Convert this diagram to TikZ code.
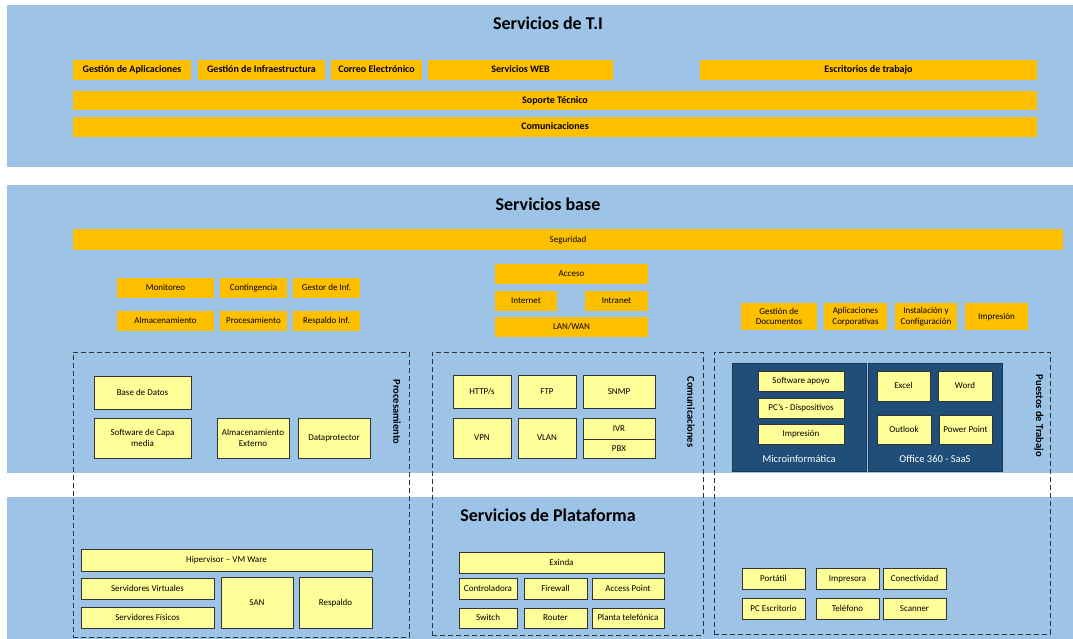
\documentclass[tikz,border=0pt]{standalone}
\usepackage{fontspec}
\setmainfont{Carlito}
\definecolor{bandblue}{HTML}{9DC3E6}
\definecolor{baseorange}{HTML}{FFC000}
\definecolor{unityellow}{HTML}{FFFF99}
\definecolor{darkblue}{HTML}{1F4E79}
\definecolor{edgegray}{HTML}{333333}
\begin{document}
\begin{tikzpicture}[x=1pt,y=-1pt,
    band/.style={fill=bandblue,draw=none},
    bandtitle/.style={font=\fontsize{18}{20}\selectfont\bfseries},
    lineup/.style={text height=1.55ex,text depth=0.45ex},
    topbar/.style={fill=baseorange,draw=none,inner sep=0,outer sep=0,lineup,font=\fontsize{10}{12}\selectfont\bfseries},
    basetwo/.style={fill=baseorange,draw=none,inner sep=0,outer sep=0,align=center,font=\fontsize{9}{10.5}\selectfont},
    basebox/.style={basetwo,lineup},
    unittwo/.style={fill=unityellow,draw=edgegray,line width=0.9pt,inner sep=0,outer sep=0,align=center,font=\fontsize{9}{10.5}\selectfont},
    unitbox/.style={unittwo,lineup},
    darkbox/.style={fill=darkblue,draw=darkblue!70!black,line width=0.6pt,inner sep=0,outer sep=0},
    darklabel/.style={text=white,font=\fontsize{10.5}{12}\selectfont},
    groupbox/.style={draw=edgegray,line width=0.9pt,dash pattern=on 5pt off 3pt,inner sep=0,outer sep=0},
    sidelabel/.style={rotate=-90,font=\fontsize{10.5}{12}\selectfont\bfseries}]

\useasboundingbox (0,0) rectangle (1073,639);

% Bands
  \draw[band] (7,5) rectangle (1073,167);
  \draw[band] (7,185) rectangle (1073,473);
  \draw[band] (7,497) rectangle (1073,639);

% Servicios de T.I
  \node[bandtitle] (titi) at (548,23) {Servicios de T.I};
  \node[topbar,minimum width=118,minimum height=20] (gapl) at (132,70) {Gestión de Aplicaciones};
  \node[topbar,minimum width=127,minimum height=20] (ginf) at (261.5,70) {Gestión de Infraestructura};
  \node[topbar,minimum width=91,minimum height=20] (correo) at (376.5,70) {Correo Electrónico};
  \node[topbar,minimum width=185,minimum height=20] (web) at (520.5,70) {Servicios WEB};
  \node[topbar,minimum width=337,minimum height=20] (escr) at (868.5,70) {Escritorios de trabajo};
  \node[topbar,minimum width=964,minimum height=19] (soporte) at (555,100.5) {Soporte Técnico};
  \node[topbar,minimum width=964,minimum height=20] (comti) at (555,127) {Comunicaciones};

% Servicios base
  \node[bandtitle] (tbase) at (548,204) {Servicios base};
  \node[basebox,minimum width=990,minimum height=21] (seg) at (568,239.5) {Seguridad};
  \node[basebox,minimum width=97,minimum height=20] (moni) at (165.5,288) {Monitoreo};
  \node[basebox,minimum width=67,minimum height=20] (cont) at (253.5,288) {Contingencia};
  \node[basebox,minimum width=67,minimum height=20] (gest) at (326.5,288) {Gestor de Inf.};
  \node[basebox,minimum width=97,minimum height=20] (alma) at (165.5,321) {Almacenamiento};
  \node[basebox,minimum width=67,minimum height=20] (proc) at (253.5,321) {Procesamiento};
  \node[basebox,minimum width=67,minimum height=20] (resp) at (326.5,321) {Respaldo Inf.};
  \node[basebox,minimum width=153,minimum height=20] (acceso) at (571.5,274) {Acceso};
  \node[basebox,minimum width=62,minimum height=20] (inet) at (526,301) {Internet};
  \node[basebox,minimum width=63,minimum height=20] (intra) at (616.5,301) {Intranet};
  \node[basebox,minimum width=153,minimum height=20] (lanwan) at (571.5,327) {LAN/WAN};
  \node[basetwo,minimum width=76,minimum height=27] (gdoc) at (779,316.5) {Gestión de\\Documentos};
  \node[basetwo,minimum width=63,minimum height=27] (apcorp) at (855.5,316.5) {Aplicaciones\\Corporativas};
  \node[basetwo,minimum width=62,minimum height=27] (instconf) at (926,316.5) {Instalación y\\Configuración};
  \node[basebox,minimum width=63,minimum height=27] (imprb) at (996.5,316.5) {Impresión};

% Dashed groups
  \node[groupbox,minimum width=336,minimum height=285] (gproc) at (241,494.5) {};
  \node[groupbox,minimum width=271,minimum height=283] (gcom) at (567.5,493.5) {};
  \node[groupbox,minimum width=336,minimum height=282] (gpue) at (882,493) {};

% Procesamiento
  \node[unitbox,minimum width=97,minimum height=33] (bd) at (142.5,392.5) {Base de Datos};
  \node[unittwo,minimum width=97,minimum height=40] (scm) at (142.5,438) {Software de Capa\\media};
  \node[unittwo,minimum width=72,minimum height=40] (aext) at (253,438) {Almacenamiento\\Externo};
  \node[unitbox,minimum width=72,minimum height=40] (dprot) at (334,438) {Dataprotector};
  \node[sidelabel] (lproc) at (397,412) {Procesamiento};

% Comunicaciones
  \node[unitbox,minimum width=58,minimum height=33] (http) at (482,391.5) {HTTP/s};
  \node[unitbox,minimum width=58,minimum height=33] (ftp) at (547,391.5) {FTP};
  \node[unitbox,minimum width=72,minimum height=33] (snmp) at (619,391.5) {SNMP};
  \node[unitbox,minimum width=58,minimum height=40] (vpn) at (482,438) {VPN};
  \node[unitbox,minimum width=58,minimum height=40] (vlan) at (547,438) {VLAN};
  \node[unitbox,minimum width=72,minimum height=21] (ivr) at (619,428.5) {IVR};
  \node[unitbox,minimum width=72,minimum height=19] (pbx) at (619,448.5) {PBX};
  \node[sidelabel] (lcom) at (691,412) {Comunicaciones};

% Puestos de Trabajo
  \node[darkbox,minimum width=134,minimum height=108] (micro) at (799,417) {};
  \node[darkbox,minimum width=134,minimum height=108] (office) at (935,417) {};
  \node[darklabel] (lmicro) at (799,459) {Microinformática};
  \node[darklabel] (loffice) at (935,459) {Office 360 - SaaS};
  \node[unitbox,minimum width=86,minimum height=20] (swap) at (801,381) {Software apoyo};
  \node[unitbox,minimum width=86,minimum height=20] (pcs) at (801,408) {PC’s - Dispositivos};
  \node[unitbox,minimum width=86,minimum height=20] (imprm) at (801,434) {Impresión};
  \node[unitbox,minimum width=53,minimum height=30] (excel) at (903.5,386) {Excel};
  \node[unitbox,minimum width=54,minimum height=30] (word) at (965,386) {Word};
  \node[unitbox,minimum width=54,minimum height=29] (outlook) at (904,429.5) {Outlook};
  \node[unitbox,minimum width=53,minimum height=29] (ppoint) at (965.5,429.5) {Power Point};
  \node[sidelabel] (lpue) at (1039,416) {Puestos de Trabajo};

% Servicios de Plataforma
  \node[bandtitle] (tplat) at (548,515) {Servicios de Plataforma};
  \node[unitbox,minimum width=291,minimum height=22] (hiper) at (226.5,560) {Hipervisor – VM Ware};
  \node[unitbox,minimum width=133,minimum height=21] (svirt) at (147.5,588.5) {Servidores Virtuales};
  \node[unitbox,minimum width=133,minimum height=21] (sfis) at (147.5,617.5) {Servidores Físicos};
  \node[unitbox,minimum width=72,minimum height=51] (san) at (257,602.5) {SAN};
  \node[unitbox,minimum width=73,minimum height=51] (respp) at (335.5,602.5) {Respaldo};
  \node[unitbox,minimum width=205,minimum height=21] (exinda) at (561.5,562.5) {Exinda};
  \node[unitbox,minimum width=58,minimum height=21] (ctrl) at (488,588.5) {Controladora};
  \node[unitbox,minimum width=63,minimum height=21] (fw) at (555.5,588.5) {Firewall};
  \node[unitbox,minimum width=72,minimum height=21] (ap) at (628,588.5) {Access Point};
  \node[unitbox,minimum width=58,minimum height=20] (switch) at (488,618) {Switch};
  \node[unitbox,minimum width=63,minimum height=20] (router) at (555.5,618) {Router};
  \node[unitbox,minimum width=72,minimum height=20] (planta) at (628,618) {Planta telefónica};
  \node[unitbox,minimum width=63,minimum height=21] (portatil) at (773.5,578.5) {Portátil};
  \node[unitbox,minimum width=63,minimum height=21] (imps) at (847.5,578.5) {Impresora};
  \node[unitbox,minimum width=63,minimum height=21] (conect) at (914.5,578.5) {Conectividad};
  \node[unitbox,minimum width=63,minimum height=21] (pcesc) at (773.5,608.5) {PC Escritorio};
  \node[unitbox,minimum width=63,minimum height=21] (telef) at (847.5,608.5) {Teléfono};
  \node[unitbox,minimum width=63,minimum height=21] (scan) at (914.5,608.5) {Scanner};

\end{tikzpicture}
\end{document}
